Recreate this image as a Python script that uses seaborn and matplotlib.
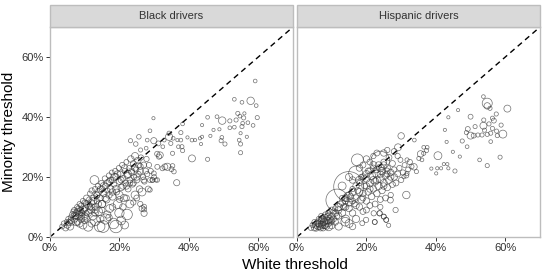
import numpy as np
import pandas as pd
import matplotlib
matplotlib.use("Agg")
import matplotlib.pyplot as plt
from matplotlib.patches import Rectangle
import seaborn as sns

# ---------------- data (percent thresholds, stop counts in thousands) -------------
panels = ["Black drivers", "Hispanic drivers"]
tick_vals = [0, 20, 40, 60]
tick_labels = ["0%", "20%", "40%", "60%"]

black_x = [
    59.1, 53.1, 57.8, 55.3, 59.4, 59.7, 58.5, 54.1, 54.7, 56.0, 55.8, 55.5, 55.3, 54.9, 54.5,
    54.9, 54.9, 57.0, 56.7, 49.6, 51.8, 51.8, 53.1, 53.6, 48.1, 45.4, 43.8, 47.1, 48.8, 49.3,
    50.4, 49.5, 46.2, 43.8, 43.2, 43.5, 40.9, 41.8, 39.6, 40.9, 45.4, 37.7, 38.0, 36.7, 37.0,
    35.5, 35.3, 38.2, 37.7, 38.2, 34.8, 32.9, 34.3, 34.3, 32.5, 29.9, 31.2, 29.8, 28.8, 28.0,
    27.7, 31.7, 30.9, 31.4, 33.8, 33.1, 32.4, 35.3, 35.7, 36.5, 35.0, 30.9, 30.9, 29.5, 29.9,
    28.8, 27.1, 27.1, 27.1, 25.6, 23.2, 24.7, 26.1,
    3.5, 4.0, 4.5, 4.8, 5.0, 5.3, 5.5, 5.8, 6.0, 6.2,
    6.5, 6.7, 7.0, 7.0, 7.2, 7.5, 7.5, 7.8, 8.0, 8.0, 8.2, 8.5, 8.5, 8.8, 9.0, 9.0, 9.2, 9.5, 9.5,
    10.0, 10.0, 10.3, 10.5, 10.5, 11.0, 11.0, 11.3, 11.5, 11.8, 12.0, 12.0, 12.3, 12.5, 12.8, 13.0, 13.0, 13.0,
    13.5, 13.5, 13.8, 14.0, 14.0, 14.3, 14.5, 14.8, 15.0, 15.0, 15.3, 15.5, 15.8, 16.0, 16.0, 16.3, 16.5,
    17.0, 17.0, 17.2, 17.5, 17.8, 18.0, 18.0, 18.3, 18.5, 18.8, 19.0, 19.0, 19.2, 19.5, 19.8, 20.0, 20.0,
    20.3, 20.5, 20.8, 21.0, 21.3, 21.5, 21.8, 22.0, 22.2, 22.3, 22.5, 22.8, 23.0, 23.0, 23.3, 23.5, 23.8,
    24.0, 24.2, 24.5, 24.5, 24.8, 25.0, 25.3, 25.5, 25.8, 26.0, 26.2, 26.5, 26.8, 27.0, 27.2, 27.5, 27.8,
    28.0, 28.3, 28.5, 28.8, 29.0, 29.5, 30.0, 30.5, 26.0, 26.5,
    13.0, 15.0, 16.5, 18.0, 20.0, 21.0, 22.0, 24.0, 25.0, 14.5, 17.0, 12.0, 10.0, 8.5, 20.5, 21.5,
    6.0, 7.5, 8.5, 9.5, 10.5, 11.5, 12.5, 13.5, 14.5, 15.5, 16.5, 17.5, 18.5, 19.5, 20.5, 21.5,
    22.5, 23.5, 24.5, 25.5, 9.0, 11.0, 13.0, 15.0, 17.0, 19.0, 21.0, 23.0, 25.0, 27.0,
    8.0, 10.0, 12.0, 14.0, 16.0, 18.0, 20.0, 22.0, 24.0, 26.0,
]
black_y = [
    52.0, 45.9, 45.4, 44.9, 43.8, 39.8, 37.2, 41.2, 40.3, 41.2, 39.7, 37.9, 36.8, 34.6, 32.3,
    31.0, 28.1, 38.1, 33.4, 38.8, 38.7, 36.4, 36.6, 39.0, 40.1, 39.9, 37.3, 35.7, 35.9, 32.1,
    31.0, 33.2, 33.7, 33.4, 32.9, 31.0, 32.3, 32.3, 33.2, 26.2, 25.9, 32.3, 30.1, 32.3, 30.1,
    32.9, 27.9, 28.8, 34.8, 37.7, 31.2, 32.3, 34.6, 33.4, 30.1, 32.1, 31.2, 39.6, 35.4, 32.3,
    29.6, 27.3, 27.7, 26.8, 23.4, 23.4, 22.9, 23.7, 21.8, 18.1, 22.6, 23.4, 19.0, 19.0, 21.2,
    15.7, 7.9, 10.1, 9.2, 33.4, 32.1, 31.0, 29.0,
    3.5, 4.5, 3.0, 5.0, 4.0, 6.0, 4.8, 3.5, 6.5, 5.0,
    7.5, 8.5, 6.0, 9.0, 7.2, 8.0, 5.0, 10.0, 8.5, 6.8, 9.5, 7.5, 11.0, 9.0, 6.0, 10.5, 8.0, 12.0, 4.0,
    9.5, 11.5, 6.5, 13.0, 8.0, 10.5, 3.5, 12.5, 14.5, 9.0, 11.5, 15.5, 7.0, 13.0, 19.0, 10.0, 16.0, 5.5,
    14.0, 12.0, 17.0, 8.5, 15.0, 3.5, 13.0, 18.0, 16.0, 11.0, 3.5, 14.5, 19.5, 17.0, 6.0, 12.5, 15.5,
    18.5, 20.5, 9.5, 16.0, 21.5, 19.0, 13.5, 4.5, 17.5, 22.0, 3.5, 20.0, 15.0, 11.0, 23.0, 18.5, 8.0,
    21.0, 16.5, 24.0, 19.5, 13.0, 22.0, 18.0, 25.0, 7.5, 20.5, 16.0, 23.0, 19.0, 11.0, 26.0, 21.5, 17.5,
    24.5, 20.0, 27.0, 14.0, 22.5, 19.0, 25.5, 21.0, 16.0, 23.5, 26.5, 15.0, 20.0, 24.0, 18.5, 22.0, 26.0,
    21.0, 16.0, 24.0, 19.0, 22.0, 19.0, 20.0, 19.0, 11.0, 9.5,
    8.0, 9.0, 7.5, 10.0, 12.5, 10.0, 13.0, 11.5, 13.0, 6.0, 6.5, 4.5, 5.5, 4.5, 5.5, 4.0,
    5.5, 7.0, 8.0, 9.0, 11.0, 10.0, 12.0, 14.0, 16.0, 17.0, 18.0, 19.0, 20.0, 21.0, 19.0, 23.0,
    21.0, 22.0, 23.0, 24.0, 7.0, 8.0, 9.0, 11.0, 14.0, 16.0, 17.0, 18.0, 20.0, 19.0,
    5.0, 7.0, 10.0, 11.0, 13.0, 15.0, 14.0, 17.0, 18.0, 22.0,
]
black_stops = [
    4, 4, 16, 4, 4, 5, 4, 5, 4, 3, 5, 4, 5, 3, 4,
    5, 5, 4, 3, 16, 5, 4, 4, 5, 4, 4, 3, 3, 3, 5,
    5, 4, 3, 3, 3, 3, 4, 3, 3, 14, 5, 4, 5, 3, 4,
    4, 5, 5, 5, 4, 5, 4, 5, 15, 4, 11, 7, 3, 4, 4,
    4, 12, 8, 8, 15, 10, 7, 6, 6, 11, 7, 7, 6, 6, 7,
    6, 11, 7, 7, 6, 5, 6, 5,
    7, 8, 10, 7, 12, 8, 10, 15, 8, 12,
    10, 7, 12, 8, 14, 10, 15, 7, 12, 10, 8, 12, 7, 10, 14, 8, 10, 8, 18,
    12, 8, 15, 10, 8, 12, 25, 8, 7, 14, 10, 8, 18, 10, 22, 12, 8, 30,
    10, 8, 8, 18, 12, 32, 10, 8, 10, 15, 40, 12, 8, 10, 30, 14, 8,
    10, 8, 18, 12, 7, 10, 15, 32, 8, 8, 45, 12, 10, 22, 7, 10, 25,
    10, 12, 8, 10, 15, 8, 10, 7, 32, 12, 10, 8, 10, 18, 12, 10, 8,
    10, 8, 14, 18, 8, 10, 12, 8, 12, 10, 8, 18, 8, 10, 8, 10, 8,
    8, 10, 8, 7, 8, 7, 7, 5, 8, 10,
    12, 10, 15, 12, 10, 12, 10, 8, 10, 15, 12, 15, 12, 15, 22, 18,
    10, 12, 10, 14, 12, 10, 14, 12, 10, 14, 12, 10, 14, 12, 10, 12,
    14, 10, 12, 10, 12, 14, 12, 16, 12, 14, 12, 10, 12, 10,
    12, 14, 12, 10, 14, 12, 16, 12, 10, 12,
]

hisp_x = [
    53.7, 54.8, 54.8, 55.6, 60.6, 50.0, 57.4, 56.3, 53.8, 56.7, 55.3, 53.7, 58.8, 51.3, 49.2,
    54.0, 56.3, 57.5, 59.3, 48.8, 50.0, 50.9, 52.1, 53.3, 54.8, 55.8, 57.7, 55.8, 47.6, 49.0,
    46.4, 43.6, 42.6, 43.1, 40.6, 44.9, 46.9, 52.6, 54.8, 58.5, 45.5, 43.3, 43.6, 42.3, 41.5,
    40.1, 38.7, 40.4, 37.3, 36.5, 35.6, 35.1, 36.0, 33.8, 36.5, 37.5, 30.0, 29.1, 31.5, 29.8,
    31.7, 33.7, 34.4, 31.7, 30.8, 28.4, 26.9, 26.4, 25.7, 25.0, 23.8, 22.4, 22.1, 18.8, 19.9,
    4.0, 4.5, 5.0, 5.0, 5.5, 5.5, 6.0, 6.0, 6.3, 6.5, 6.8, 7.0, 7.0, 7.3, 7.5, 7.5, 7.8, 8.0,
    8.0, 8.2, 8.5, 8.5, 8.8, 9.0, 9.0, 9.1, 9.5, 9.8, 10.0, 10.0, 10.5, 10.5, 11.0, 11.0, 11.5,
    11.5, 14.9, 16.9, 17.4, 24.0,
    12.0, 12.5, 13.0, 13.0, 13.5, 14.0, 14.0, 14.5, 15.0, 15.0, 15.5, 16.0, 16.0, 16.5, 17.0, 17.0,
    17.5, 18.0, 18.0, 18.5, 18.5, 19.0, 19.0, 19.5, 20.0, 20.0, 20.5, 20.5, 21.0, 21.0, 21.5, 21.5,
    22.0, 22.0, 22.5, 22.5, 23.0, 23.0, 23.5, 23.5, 24.0, 24.0, 24.5, 24.5, 25.0, 25.0, 25.5, 25.5,
    26.0, 26.0, 26.5, 26.5, 27.0, 27.0, 27.5, 27.5, 28.0, 28.0, 28.5, 29.0, 29.5, 30.0, 30.5, 31.0,
    31.5, 32.0, 32.5, 33.0,
    22.4, 23.8, 25.0, 25.7, 16.0, 13.9, 12.0, 15.0, 20.0, 24.0,
    13.0, 15.0, 16.0, 18.0, 19.0, 20.0, 21.0, 22.0, 23.0, 25.0, 26.0, 28.0, 29.0,
    6.0, 7.0, 8.0, 9.0, 10.0, 11.0, 12.0, 13.0, 14.0, 15.0, 16.0, 17.0, 18.0, 19.0, 20.0, 21.0,
    22.0, 23.0, 24.0, 25.0, 26.0, 27.0, 14.0, 16.0, 18.0, 20.0, 22.0, 24.0, 26.0, 17.0,
    19.0, 21.0, 23.0, 25.0, 10.0, 12.0, 9.0, 8.0, 7.0, 6.5,
]
hisp_y = [
    46.8, 44.6, 43.7, 42.9, 42.8, 40.1, 41.0, 39.6, 39.0, 38.8, 37.7, 37.1, 37.3, 36.8, 36.0,
    35.6, 36.2, 35.3, 34.3, 34.8, 33.8, 33.8, 34.0, 34.0, 34.2, 34.6, 33.8, 31.8, 32.0, 30.1,
    42.3, 39.9, 35.7, 31.7, 27.1, 28.4, 26.8, 25.7, 23.8, 26.6, 22.0, 24.3, 22.9, 24.3, 22.9,
    21.2, 22.8, 22.9, 28.8, 27.9, 27.7, 26.2, 25.7, 32.3, 29.9, 29.9, 33.7, 29.9, 14.0, 25.7,
    25.7, 23.4, 21.8, 21.2, 20.1, 9.0, 12.3, 3.9, 5.7, 6.8, 7.9, 5.0, 7.9, 4.6, 5.7,
    3.0, 4.0, 3.0, 5.0, 4.0, 2.8, 5.0, 3.5, 6.0, 4.5, 3.0, 5.5, 7.0, 4.0, 6.0, 3.0, 5.0, 6.5,
    4.0, 7.5, 5.5, 3.5, 6.8, 4.5, 8.0, 3.4, 6.0, 5.0, 7.0, 3.8, 6.0, 8.5, 5.0, 9.5, 7.0,
    12.3, 16.8, 21.3, 25.7, 25.5,
    9.0, 11.0, 8.0, 13.0, 10.0, 12.0, 6.0, 14.0, 9.5, 11.5, 13.5, 8.0, 16.0, 11.0, 13.0, 6.0,
    15.5, 10.0, 18.0, 12.5, 20.0, 14.5, 8.5, 17.0, 12.0, 19.5, 22.0, 15.0, 10.5, 18.0, 13.5, 20.5,
    16.0, 23.0, 11.0, 18.5, 14.5, 21.0, 24.0, 17.0, 12.5, 19.5, 22.0, 15.5, 18.0, 25.0, 13.0, 20.5,
    23.0, 16.5, 19.0, 26.5, 21.5, 14.0, 17.5, 24.5, 20.0, 22.5, 18.0, 21.0, 23.0, 19.0, 21.5, 24.0,
    20.5, 22.5, 25.0, 23.5,
    5.0, 7.9, 6.8, 5.7, 3.5, 5.1, 3.5, 4.5, 9.0, 10.0,
    17.0, 20.0, 19.0, 23.0, 24.0, 26.0, 25.0, 27.0, 28.0, 28.0, 29.0, 28.5, 27.0,
    4.5, 6.0, 5.0, 7.0, 5.5, 8.0, 10.0, 11.5, 13.0, 14.0, 15.0, 17.0, 19.0, 20.0, 21.0, 22.0,
    24.0, 22.5, 23.0, 24.0, 21.0, 20.0, 10.0, 12.0, 15.0, 17.0, 19.0, 21.0, 22.0, 10.5,
    13.0, 16.0, 19.0, 17.0, 9.0, 7.0, 5.5, 3.8, 4.2, 3.5,
]
hisp_stops = [
    4, 29, 12, 5, 14, 7, 5, 5, 5, 7, 5, 14, 5, 5, 7,
    5, 5, 5, 18, 5, 14, 7, 5, 5, 5, 5, 5, 4, 5, 4,
    3, 3, 3, 3, 18, 3, 3, 4, 5, 5, 5, 3, 3, 3, 3,
    3, 3, 3, 5, 5, 12, 5, 4, 4, 4, 4, 12, 14, 16, 7,
    5, 12, 5, 5, 5, 8, 10, 5, 7, 7, 8, 7, 8, 7, 8,
    7, 8, 10, 7, 12, 8, 10, 12, 8, 14, 10, 12, 8, 15, 12, 10, 14, 12,
    15, 8, 14, 10, 10, 12, 8, 18, 12, 10, 10, 12, 10, 8, 12, 8, 10,
    139, 259, 56, 41, 100,
    12, 10, 15, 8, 12, 10, 18, 8, 12, 15, 10, 12, 8, 10, 12, 15,
    10, 12, 8, 15, 8, 12, 10, 10, 12, 15, 10, 12, 10, 14, 12, 18,
    12, 10, 10, 15, 12, 18, 12, 15, 10, 18, 15, 12, 14, 10, 10, 15,
    12, 12, 14, 10, 12, 8, 10, 10, 12, 8, 10, 10, 8, 8, 8, 7,
    7, 7, 8, 7,
    7, 8, 7, 7, 12, 22, 15, 18, 10, 8,
    18, 15, 12, 12, 10, 12, 10, 8, 10, 12, 8, 10, 8,
    10, 12, 10, 12, 10, 12, 14, 12, 14, 12, 14, 12, 16, 12, 14, 12,
    14, 12, 16, 12, 10, 12, 12, 10, 14, 12, 14, 12, 10, 12,
    10, 12, 14, 12, 10, 12, 12, 10, 10, 12,
]

# ---------------- build table ----------------
df = pd.concat([
    pd.DataFrame({"white": black_x, "minority": black_y, "stops": black_stops, "race": panels[0]}),
    pd.DataFrame({"white": hisp_x, "minority": hisp_y, "stops": hisp_stops, "race": panels[1]}),
], ignore_index=True)

sns.set_theme(style="white")
plt.rcParams["font.family"] = ["Liberation Sans", "DejaVu Sans"]

W, H = 545, 273
fig = plt.figure(figsize=(W / 100, H / 100), dpi=100)

panel_left = [50, 297]
panel_w = 243
panel_top, panel_bottom = 27, 237
strip_top = 5
border_col = "#bdbdbd"
text_col = "#333333"

for i, name in enumerate(panels):
    ax = fig.add_axes([panel_left[i] / W, (H - panel_bottom) / H,
                       panel_w / W, (panel_bottom - panel_top) / H])
    sub = df[df["race"] == name]
    sns.scatterplot(data=sub, x="white", y="minority", size="stops",
                    sizes=(0, 900), size_norm=(0, 500), legend=False,
                    marker="o", facecolor="none", edgecolor="#333333",
                    linewidth=0.5, alpha=0.7, ax=ax)
    ax.plot([0, 70], [0, 70], ls=(0, (4, 3)), color="black", lw=1.0, zorder=0.5)
    ax.set_xlim(0, 70)
    ax.set_ylim(0, 70)
    ax.set_xticks(tick_vals)
    ax.set_xticklabels(tick_labels)
    if i == 0:
        ax.set_yticks(tick_vals)
        ax.set_yticklabels(tick_labels)
        ax.set_ylabel("Minority threshold", fontsize=11, color="black", labelpad=4)
        ax.tick_params(axis="y", length=3, width=0.7, color="#333333",
                       labelsize=8, labelcolor=text_col, pad=1.5, left=True)
    else:
        ax.set_yticks(tick_vals)
        ax.set_yticklabels([])
        ax.tick_params(axis="y", length=0, left=False)
        ax.set_ylabel("")
    ax.set_xlabel("")
    ax.tick_params(axis="x", length=3, width=0.7, color="#333333",
                   labelsize=8, labelcolor=text_col, pad=1.5, bottom=True)
    for sp in ax.spines.values():
        sp.set_color(border_col)
        sp.set_linewidth(1.0)
    ax.grid(False)
    ax.set_facecolor("white")
    # strip
    fig.patches.append(Rectangle((panel_left[i] / W, (H - panel_top) / H),
                                 panel_w / W, (panel_top - strip_top) / H,
                                 transform=fig.transFigure, facecolor="#d9d9d9",
                                 edgecolor=border_col, linewidth=1.0))
    fig.text((panel_left[i] + panel_w / 2) / W, (H - (panel_top + strip_top) / 2) / H,
             name, ha="center", va="center", fontsize=8, color=text_col)

fig.text((50 + 540) / 2 / W, 1 / H, "White threshold", ha="center", va="bottom",
         fontsize=11, color="black")

fig.savefig("out.png", dpi=100)
